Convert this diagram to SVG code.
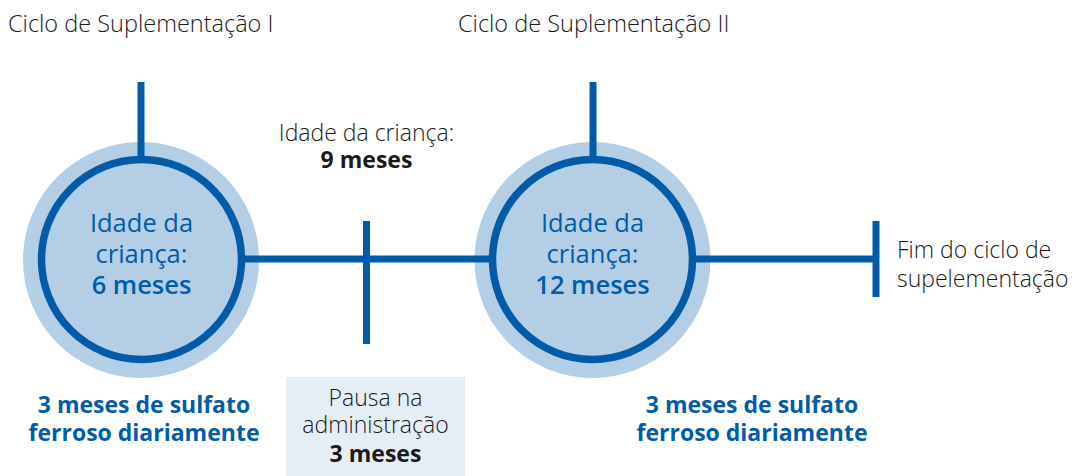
<svg xmlns="http://www.w3.org/2000/svg" width="1073" height="476" viewBox="0 0 1073 476">
<style>
.t{font-family:"Open Sans","Liberation Sans",sans-serif;font-weight:300;fill:#1a1a1a;font-size:23px}
.h{font-size:23.5px}
.b{font-weight:700}
.blue{fill:#005ca9}
.ln{stroke:#005ca9;stroke-width:7;fill:none}
.halo{fill:#b4cee5}
.ring{fill:#b4cee5;stroke:#005ca9;stroke-width:7.5}
.ct{font-family:"Open Sans","Liberation Sans",sans-serif;font-size:25.5px;fill:#005ca9;text-anchor:middle}
</style>
<rect width="1073" height="476" fill="#ffffff"/>
<g id="title1"><text class="t h" x="8" y="32">Ciclo de Suplementação I</text></g>
<g id="title2"><text class="t h" x="458" y="32">Ciclo de Suplementação II</text></g>
<g id="node-6m">
<circle class="halo" cx="141" cy="260" r="118"/>
<circle class="ring" cx="141.5" cy="259.5" r="100"/>
<text class="ct" x="141.5" y="232" font-weight="400">Idade da</text>
<text class="ct" x="141.5" y="263" font-weight="400">criança:</text>
<text class="ct" x="141.5" y="294" font-weight="600">6 meses</text>
</g>
<g id="node-12m">
<circle class="halo" cx="592.5" cy="260" r="118"/>
<circle class="ring" cx="592.5" cy="259.5" r="100"/>
<text class="ct" x="592.5" y="232" font-weight="400">Idade da</text>
<text class="ct" x="592.5" y="263" font-weight="400">criança:</text>
<text class="ct" x="592.5" y="294" font-weight="600">12 meses</text>
</g>
<g id="connectors">
<line class="ln" x1="141" y1="82" x2="141" y2="157"/>
<line class="ln" x1="593" y1="82" x2="593" y2="157"/>
<line class="ln" x1="244" y1="259" x2="491" y2="259"/>
<line class="ln" x1="694" y1="259" x2="876" y2="259"/>
<line class="ln" x1="366.5" y1="221" x2="366.5" y2="344"/>
<line class="ln" x1="876" y1="221" x2="876" y2="297"/>
</g>
<g id="label-9m">
<text class="t" x="366.5" y="141" text-anchor="middle">Idade da criança:</text>
<text class="t b" x="366.5" y="168" text-anchor="middle">9 meses</text>
</g>
<g id="label-cycle1">
<text class="t b blue" x="144" y="413" text-anchor="middle">3 meses de sulfato</text>
<text class="t b blue" x="144" y="441" text-anchor="middle">ferroso diariamente</text>
</g>
<g id="label-cycle2">
<text class="t b blue" x="752" y="413" text-anchor="middle">3 meses de sulfato</text>
<text class="t b blue" x="752" y="441" text-anchor="middle">ferroso diariamente</text>
</g>
<g id="pause">
<rect x="286" y="377" width="179" height="99" fill="#e5edf5"/>
<text class="t" x="375.5" y="406" text-anchor="middle">Pausa na</text>
<text class="t" x="375.5" y="433" text-anchor="middle">administração</text>
<text class="t b" x="375.5" y="462" text-anchor="middle">3 meses</text>
</g>
<g id="end">
<text class="t" x="897" y="258">Fim do ciclo de</text>
<text class="t" x="897" y="287">supelementação</text>
</g>
</svg>
